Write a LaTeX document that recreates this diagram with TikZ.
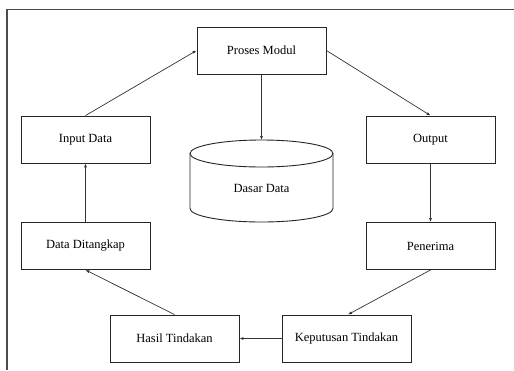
\documentclass[tikz,border=0pt]{standalone}
\usepackage{fontspec}
\setmainfont{Liberation Serif}
\usetikzlibrary{arrows.meta,shapes.geometric}
\begin{document}
\begin{tikzpicture}[x=1pt,y=-1pt,
  box/.style={draw=black!85, line width=0.9pt, minimum width=129pt, minimum height=47pt, inner sep=0pt, fill=white, font=\fontsize{12.5}{14}\selectfont},
  conn/.style={draw=black!80, line width=0.7pt, -{Latex[length=4pt,width=3pt]}},
  frame/.style={draw=black!70, line width=1.5pt}]
\useasboundingbox (0,0) rectangle (514,370);
\fill[white] (0,0) rectangle (514,370);
\draw[frame] (7,370) -- (7,9.5) -- (514,9.5);
\node[box] (pm) at (261.5,50.5) {Proses Modul};
\node[box] (in) at (85.5,139.5) {Input Data};
\node[box] (out) at (430.5,139.5) {Output};
\node[box] (dd) at (85.5,246) {Data Ditangkap};
\node[box] (pen) at (430.5,246) {Penerima};
\node[box] (hasil) at (174.5,338.5) {Hasil Tindakan};
\node[box] (kep) at (346.5,338.5) {Keputusan Tindakan};
% database cylinder
\coordinate (dbtop) at (261.5,140);
\draw[draw=black!85, line width=0.9pt] (190,153.5) -- (190,208.5) arc[start angle=180,end angle=0,x radius=71.5,y radius=13.5] -- (333,153.5);
\draw[draw=black!85, line width=0.9pt] (261.5,153.5) ellipse[x radius=71.5,y radius=13.5];
\node[font=\fontsize{12.5}{14}\selectfont] (db) at (261.5,188) {Dasar Data};
\draw[conn] (pm.south) -- (dbtop);
\draw[conn] (in.north) -- (pm.west);
\draw[conn] (pm.east) -- (out.north);
\draw[conn] (out.south) -- (pen.north);
\draw[conn] (pen.south) -- ([xshift=1.5pt]kep.north);
\draw[conn] (kep.west) -- (hasil.east);
\draw[conn] (hasil.north) -- (dd.south);
\draw[conn] (dd.north) -- (in.south);
\end{tikzpicture}
\end{document}
